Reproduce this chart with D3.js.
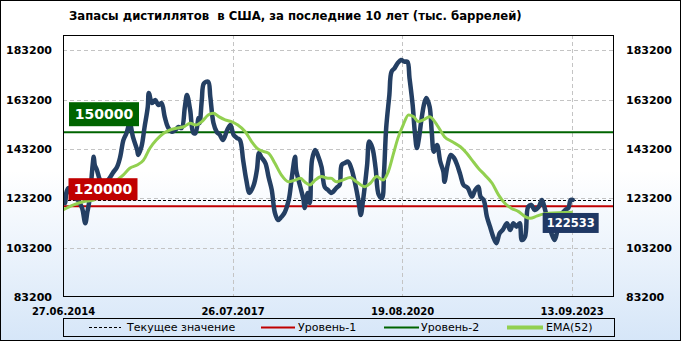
<!DOCTYPE html>
<html>
<head>
<meta charset="utf-8">
<script src="https://cdn.jsdelivr.net/npm/d3@7"></script>
<style>
  body { margin: 0; }
  svg { display: block; }
  text { font-family: "DejaVu Sans", sans-serif; }
</style>
</head>
<body>
<svg id="chart" width="681" height="341"></svg>
<script>
var chartTitle = "Запасы дистиллятов  в США, за последние 10 лет (тыс. баррелей)";

// weekly stocks, week 0 = 27.06.2014
var stockWeeks = [0,2,3,5,8,11,14,18,21,23,25,28,29,30,32,35,38,41,44,47,51,54,57,60,63,66,70,71,74,77,
  80,81,84,87,90,93,96,99,103,106,109,112,115,117,120,123,125,128,129,131,133,137,139,142,145,148,151,155,158,161,
  164,167,170,173,176,180,183,185,187,191,194,197,200,203,206,209,213,216,219,220,224,227,228,231,233,235,238,241,244,247,
  250,253,255,258,261,263,266,269,272,276,279,281,283,287,289,292,295,298,301,303,305,308,310,313,316,319,322,325,327,330,
  332,334,336,338,341,343,346,348,350,353,356,359,360,363,366,369,372,375,378,382,386,389,392,394,397,400,403,406,409,412,
  415,419,422,425,428,431,433,436,439,442,445,449,452,455,458,461,464,466,468,471,474,477,479,481];
var stockValues = [123900,121200,125200,127400,124600,123300,122500,119300,113100,117700,122500,136700,140000,136700,134700,130600,129400,129900,131400,133500,135900,140000,146800,149700,153700,148100,142800,140800,144000,152100,
  160200,165900,161800,163100,161000,161800,156200,152100,150200,150900,152100,151700,160200,165100,159000,149700,149600,155800,153700,163100,169800,170500,164400,153700,150200,148900,146800,150900,152900,148900,
  147700,146800,138700,130600,125400,128600,134700,141600,140000,137500,131800,126600,117300,114400,115600,117300,122500,131800,140000,134700,127800,122500,119300,125400,121300,138700,142800,140000,135900,127800,
  126600,125400,125900,127400,128600,136700,137500,138100,135500,128600,121800,116400,121800,136700,146200,143600,135500,124600,123300,134000,151700,165100,174500,176000,178100,179300,178600,178600,172000,161000,
  150200,143600,147700,154300,161800,163900,160300,150200,142100,144800,138100,134000,129900,136700,140800,139600,136700,132700,128600,127400,123900,126600,127900,123900,122500,115800,111700,107600,105000,109000,
  110400,113100,110400,113100,111700,113100,106300,107600,119800,120500,118500,119800,122500,118500,113100,109000,106300,109000,114400,117100,118500,119300,122500,122533];

var emaWeeks = [0,10,19,29,38,47,57,63,70,76,82,88,95,101,107,114,120,125,131,137,142,147,153,159,165,172,178,183,187,194,
  200,206,213,219,224,228,233,238,244,250,253,258,264,271,277,285,290,296,302,307,312,316,321,326,331,335,340,346,353,360,
  367,375,381,386,392,398,405,411,417,423,430,436,441,447,453,458,481];
var emaValues = [118500,120500,121800,122500,125900,129300,132700,135400,136700,138700,143500,146800,149600,150900,151600,152200,153600,152900,154300,157000,157700,156300,155000,154300,152900,150200,146200,143500,142500,141500,
  137400,132700,129900,130600,131300,129900,128600,130600,132000,131300,131300,129900,130600,131600,129900,127900,129300,132000,130600,134000,141500,147500,152900,157000,156300,154300,155000,156300,152900,148200,
  146200,144100,141500,138700,135400,132700,129300,124600,121200,119200,117800,115800,115100,116000,116800,117100,117600];

var currentValue = 122533;
var level1 = 120000;
var level2 = 150000;
var yTicks = [83200, 103200, 123200, 143200, 163200, 183200];
var xTickWeeks = [0, 160, 320, 480];
var xTickLabels = ["27.06.2014", "26.07.2017", "19.08.2020", "13.09.2023"];
var legendLabels = ["Текущее значение", "Уровень-1", "Уровень-2", "EMA(52)"];

var W = 681, H = 341;
var plot = {left: 63, right: 614, top: 35, bottom: 297};

var svg = d3.select("#chart");
var defs = svg.append("defs");
var grad = defs.append("linearGradient").attr("id", "bg")
  .attr("x1", 0).attr("y1", 0).attr("x2", 0).attr("y2", 1);
grad.append("stop").attr("offset", "0%").attr("stop-color", "#ffffff");
grad.append("stop").attr("offset", "50%").attr("stop-color", "#ffffff");
grad.append("stop").attr("offset", "100%").attr("stop-color", "#d6e6f8");
defs.append("clipPath").attr("id", "clip").append("rect")
  .attr("x", plot.left).attr("y", plot.top)
  .attr("width", plot.right - plot.left).attr("height", plot.bottom - plot.top);

svg.append("rect").attr("x", 0.5).attr("y", 0.5)
  .attr("width", W - 1).attr("height", H - 1)
  .attr("fill", "url(#bg)").attr("stroke", "#000");

var x = d3.scaleLinear().domain([0, 520]).range([plot.left, plot.right]);
var y = d3.scaleLinear().domain([83200, 189400]).range([plot.bottom, plot.top]);

// title
svg.append("text")
  .attr("x", 69).attr("y", 20)
  .style("white-space", "pre")
  .attr("font-family", "DejaVu Sans Condensed")
  .attr("font-size", 11.7).attr("font-weight", "bold")
  .text(chartTitle);

// grid
var grid = svg.append("g").attr("stroke", "#c4c4c4").attr("stroke-dasharray", "4,3");
grid.selectAll(".h").data(yTicks.slice(1)).enter().append("line")
  .attr("x1", plot.left).attr("x2", plot.right)
  .attr("y1", function(d) { return Math.round(y(d)) + 0.5; })
  .attr("y2", function(d) { return Math.round(y(d)) + 0.5; });
grid.selectAll(".v").data(xTickWeeks.slice(1)).enter().append("line")
  .attr("y1", plot.top).attr("y2", plot.bottom)
  .attr("x1", function(d) { return Math.round(x(d)) + 0.5; })
  .attr("x2", function(d) { return Math.round(x(d)) + 0.5; });

// axes
var fmt = function(d) { return String(d); };
var leftAxis = svg.append("g").attr("transform", "translate(" + plot.left + ",0)")
  .call(d3.axisLeft(y).tickValues(yTicks).tickSize(0).tickPadding(11).tickFormat(fmt));
var rightAxis = svg.append("g").attr("transform", "translate(" + plot.right + ",0)")
  .call(d3.axisRight(y).tickValues(yTicks).tickSize(0).tickPadding(12).tickFormat(fmt));
var bottomAxis = svg.append("g").attr("transform", "translate(0," + plot.bottom + ")")
  .call(d3.axisBottom(x).tickValues(xTickWeeks).tickSize(0).tickPadding(11)
    .tickFormat(function(d, i) { return xTickLabels[i]; }));
[leftAxis, rightAxis, bottomAxis].forEach(function(a) {
  a.select(".domain").remove();
  a.selectAll("text").attr("font-family", "DejaVu Sans").attr("font-weight", "bold")
    .attr("font-size", 11).attr("fill", "#000");
});
bottomAxis.selectAll("text").attr("font-size", 10);

// level lines
var levels = svg.append("g").attr("clip-path", "url(#clip)");
levels.append("line").attr("x1", plot.left).attr("x2", plot.right)
  .attr("y1", y(level1)).attr("y2", y(level1))
  .attr("stroke", "#c00000").attr("stroke-width", 2);
levels.append("line").attr("x1", plot.left).attr("x2", plot.right)
  .attr("y1", y(level2)).attr("y2", y(level2))
  .attr("stroke", "#006400").attr("stroke-width", 2);
levels.append("line").attr("x1", plot.left).attr("x2", plot.right)
  .attr("y1", Math.round(y(currentValue)) + 0.5).attr("y2", Math.round(y(currentValue)) + 0.5)
  .attr("stroke", "#000").attr("stroke-width", 1).attr("stroke-dasharray", "3,2");

// series
var stockLine = d3.line()
  .x(function(d, i) { return x(stockWeeks[i]); })
  .y(function(d) { return y(d); })
  .curve(d3.curveCatmullRom.alpha(0.5));
var emaLine = d3.line()
  .x(function(d, i) { return x(emaWeeks[i]); })
  .y(function(d) { return y(d); })
  .curve(d3.curveMonotoneX);

var series = svg.append("g").attr("clip-path", "url(#clip)");
series.append("path").attr("d", stockLine(stockValues))
  .attr("fill", "none").attr("stroke", "#243f63").attr("stroke-width", 4.5)
  .attr("stroke-linejoin", "round").attr("stroke-linecap", "round");
series.append("path").attr("d", emaLine(emaValues))
  .attr("fill", "none").attr("stroke", "#92d050").attr("stroke-width", 3)
  .attr("stroke-linejoin", "round");

// plot frame
svg.append("rect").attr("x", plot.left + 0.5).attr("y", plot.top + 0.5)
  .attr("width", plot.right - plot.left - 1).attr("height", plot.bottom - plot.top - 1)
  .attr("fill", "none").attr("stroke", "#000");

// value labels
var drawTag = function(value, cx, top, w, h, color, size) {
  svg.append("rect").attr("x", cx - w / 2).attr("y", top).attr("width", w).attr("height", h)
    .attr("fill", color);
  svg.append("text").attr("x", cx).attr("y", top + h / 2).attr("dy", "0.36em")
    .attr("text-anchor", "middle").attr("fill", "#fff")
    .attr("font-weight", "bold").attr("font-size", size)
    .text(String(value));
};
drawTag(level2, plot.left + 41, y(level2) - 30, 70, 24, "#006400", 14);
drawTag(level1, plot.left + 40, y(level1) - 28, 69, 22, "#c00000", 14);
var last = stockWeeks.length - 1;
drawTag(currentValue, x(stockWeeks[last]) - 2, y(currentValue) + 13, 56, 20, "#1f3864", 11.5);

// legend
var lg = svg.append("g");
lg.append("rect").attr("x", 63.5).attr("y", 318.5).attr("width", 551).attr("height", 18)
  .attr("fill", "none").attr("stroke", "#000");
var legendItems = [
  {x1: 89, x2: 121, tx: 127, color: "#000", w: 1, dash: "3,2"},
  {x1: 261, x2: 295, tx: 298, color: "#c00000", w: 2, dash: null},
  {x1: 384, x2: 419, tx: 421, color: "#006400", w: 2, dash: null},
  {x1: 507, x2: 543, tx: 546, color: "#92d050", w: 4, dash: null}
];
legendItems.forEach(function(it, i) {
  lg.append("line").attr("x1", it.x1).attr("x2", it.x2).attr("y1", 327.5).attr("y2", 327.5)
    .attr("stroke", it.color).attr("stroke-width", it.w)
    .attr("stroke-dasharray", it.dash);
  lg.append("text").attr("x", it.tx).attr("y", 327.5).attr("dy", "0.36em")
    .attr("font-size", 11).attr("fill", "#000")
    .text(legendLabels[i]);
});
</script>
</body>
</html>
